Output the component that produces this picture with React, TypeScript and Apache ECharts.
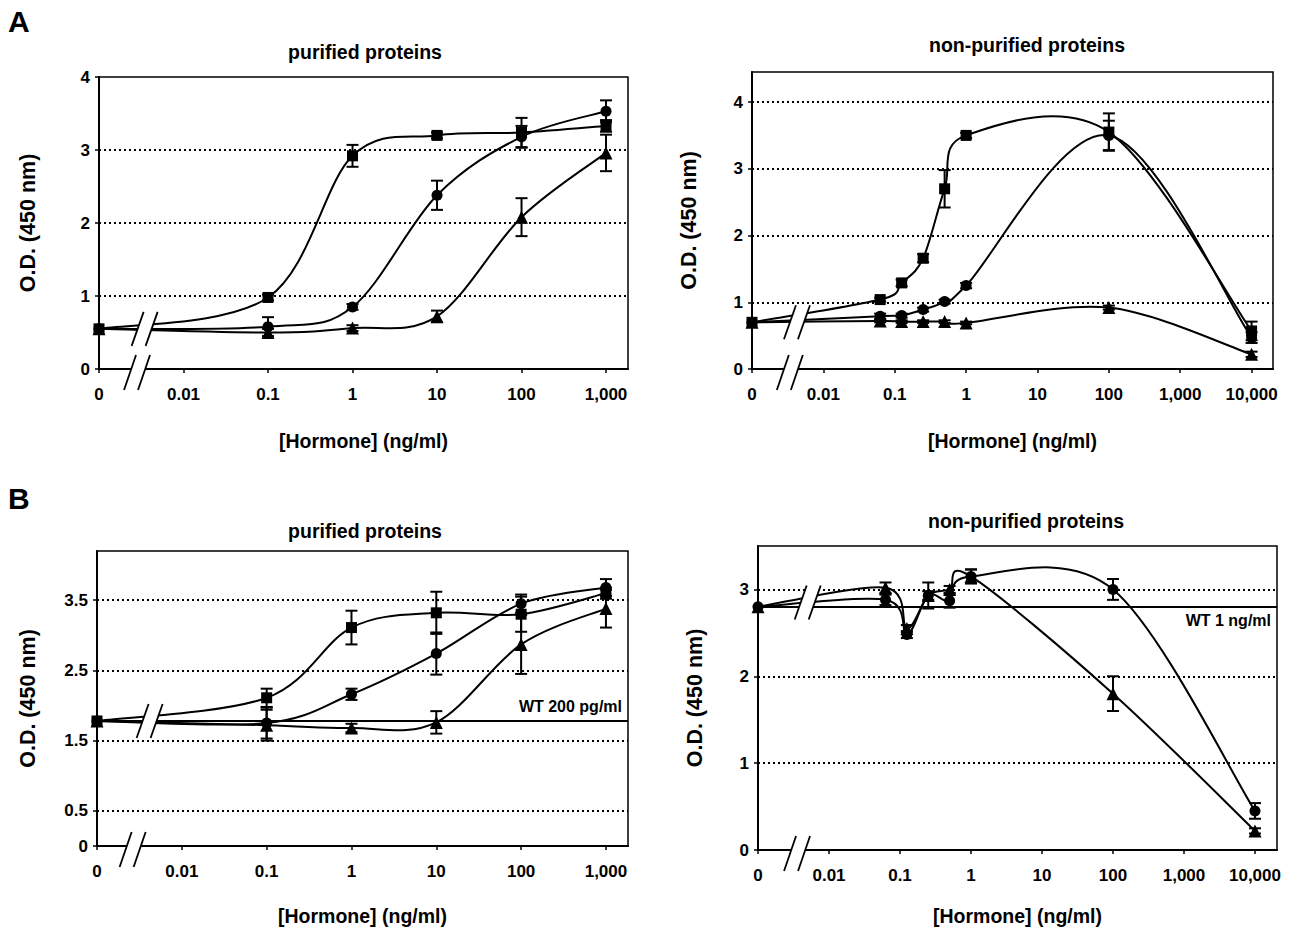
import React, { useEffect, useRef } from 'react';
import * as echarts from 'echarts';

const FONT = "'Liberation Sans', Arial, sans-serif";

// x tick concentrations (ng/ml) and their labels
const xTickConc = [0, 0.01, 0.1, 1, 10, 100, 1000, 10000];
const xTickLabels = ['0', '0.01', '0.1', '1', '10', '100', '1,000', '10,000'];

// Panel A – purified proteins
const concAL = [0, 0.1, 1, 10, 100, 1000];
const aLSquare = [0.55, 0.98, 2.92, 3.2, 3.24, 3.33];
const aLSquareErr = [0, 0.04, 0.15, 0.04, 0.2, 0.08];
const aLCircle = [0.55, 0.58, 0.85, 2.38, 3.18, 3.53];
const aLCircleErr = [0, 0.13, 0.04, 0.2, 0.15, 0.15];
const aLTriangle = [0.55, 0.5, 0.56, 0.72, 2.08, 2.96];
const aLTriangleErr = [0, 0.05, 0.04, 0.08, 0.26, 0.25];

// Panel A – non-purified proteins
const concAR = [0, 0.0625, 0.125, 0.25, 0.5, 1, 100, 10000];
const aRSquare = [0.7, 1.04, 1.29, 1.66, 2.7, 3.5, 3.55, 0.57];
const aRSquareErr = [0, 0.03, 0.05, 0.06, 0.28, 0.04, 0.28, 0.14];
const aRCircle = [0.7, 0.79, 0.8, 0.89, 1.01, 1.25, 3.5, 0.47];
const aRCircleErr = [0, 0.04, 0.03, 0.03, 0.03, 0.04, 0.22, 0.08];
const aRTriangle = [0.7, 0.72, 0.71, 0.71, 0.71, 0.69, 0.92, 0.22];
const aRTriangleErr = [0, 0.02, 0.02, 0.02, 0.02, 0.02, 0.03, 0.04];

// Panel B – purified proteins
const concBL = [0, 0.1, 1, 10, 100, 1000];
const bLSquare = [1.78, 2.11, 3.11, 3.32, 3.3, 3.6];
const bLSquareErr = [0, 0.13, 0.24, 0.3, 0.25, 0.08];
const bLCircle = [1.78, 1.75, 2.16, 2.74, 3.45, 3.68];
const bLCircleErr = [0, 0.22, 0.08, 0.3, 0.13, 0.12];
const bLTriangle = [1.78, 1.72, 1.68, 1.76, 2.87, 3.38];
const bLTriangleErr = [0, 0.22, 0.06, 0.16, 0.42, 0.27];
const bLReference = 1.79;
const bLReferenceLabel = 'WT 200 pg/ml';

// Panel B – non-purified proteins
const concBR = [0, 0.0625, 0.125, 0.25, 0.5, 1, 100, 10000];
const bRCircle = [2.8, 2.88, 2.48, 2.93, 2.87, 3.15, 3.0, 0.45];
const bRCircleErr = [0, 0.06, 0.04, 0.15, 0.08, 0.08, 0.12, 0.09];
const bRTriangle = [2.8, 3.02, 2.55, 2.93, 3.0, 3.15, 1.8, 0.22];
const bRTriangleErr = [0, 0.06, 0.04, 0.05, 0.04, 0.08, 0.2, 0.03];
const bRReference = 2.8;
const bRReferenceLabel = 'WT 1 ng/ml';

const titles = ['purified proteins', 'non-purified proteins', 'purified proteins', 'non-purified proteins'];
const yLabelsA1 = [0, 1, 2, 3, 4];
const yLabelsA2 = [0, 1, 2, 3, 4];
const yLabelsB1 = [0, 0.5, 1.5, 2.5, 3.5];
const yLabelsB2 = [0, 1, 2, 3];
const gridLinesA1 = [1, 2, 3];
const gridLinesA2 = [1, 2, 3, 4];
const gridLinesB1 = [0.5, 1.5, 2.5, 3.5];
const gridLinesB2 = [1, 2, 3];

const pos = (c: number) => (c === 0 ? -3 : Math.log10(c));

type S = { sym: string; size: number; vals: number[]; errs: number[] };
type Panel = {
  grid: { left: number; top: number; width: number; height: number };
  xMax: number; yMax: number; yLabels: number[]; gridLines: number[];
  conc: number[]; series: S[];
  ref?: { y: number; label: string; pos: string };
  breaks: { upper: [number, number]; lower: number };
  title: { x: number; y: number };
  yNameGap: number; xNameGap: number;
};

const SQ = 'rect', CI = 'circle', TR = 'triangle';

const panels: Panel[] = [
  {
    grid: { left: 99, top: 77, width: 529, height: 292 }, xMax: 3.26, yMax: 4,
    yLabels: yLabelsA1, gridLines: gridLinesA1, conc: concAL,
    series: [
      { sym: SQ, size: 11, vals: aLSquare, errs: aLSquareErr },
      { sym: CI, size: 11, vals: aLCircle, errs: aLCircleErr },
      { sym: TR, size: 13, vals: aLTriangle, errs: aLTriangleErr },
    ],
    breaks: { upper: [-2.46, 0.55], lower: -2.55 },
    title: { x: 365, y: 42 }, yNameGap: 60, xNameGap: 62,
  },
  {
    grid: { left: 752, top: 72, width: 521, height: 297 }, xMax: 4.3, yMax: 4.45,
    yLabels: yLabelsA2, gridLines: gridLinesA2, conc: concAR,
    series: [
      { sym: SQ, size: 11, vals: aRSquare, errs: aRSquareErr },
      { sym: CI, size: 11, vals: aRCircle, errs: aRCircleErr },
      { sym: TR, size: 13, vals: aRTriangle, errs: aRTriangleErr },
    ],
    breaks: { upper: [-2.37, 0.7], lower: -2.47 },
    title: { x: 1027, y: 35 }, yNameGap: 52, xNameGap: 62,
  },
  {
    grid: { left: 97, top: 551, width: 531, height: 298 }, xMax: 3.26, yMax: 4.2,
    yLabels: yLabelsB1, gridLines: gridLinesB1, conc: concBL,
    series: [
      { sym: SQ, size: 11, vals: bLSquare, errs: bLSquareErr },
      { sym: CI, size: 11, vals: bLCircle, errs: bLCircleErr },
      { sym: TR, size: 13, vals: bLTriangle, errs: bLTriangleErr },
    ],
    ref: { y: bLReference, label: bLReferenceLabel, pos: 'insideEndTop' },
    breaks: { upper: [-2.38, 1.78], lower: -2.58 },
    title: { x: 365, y: 521 }, yNameGap: 58, xNameGap: 60,
  },
  {
    grid: { left: 758, top: 546, width: 519, height: 306 }, xMax: 4.31, yMax: 3.5,
    yLabels: yLabelsB2, gridLines: gridLinesB2, conc: concBR,
    series: [
      { sym: CI, size: 11, vals: bRCircle, errs: bRCircleErr },
      { sym: TR, size: 13, vals: bRTriangle, errs: bRTriangleErr },
    ],
    ref: { y: bRReference, label: bRReferenceLabel, pos: 'insideEndBottom' },
    breaks: { upper: [-2.3, 2.85], lower: -2.45 },
    title: { x: 1026, y: 511 }, yNameGap: 52, xNameGap: 56,
  },
];

function xLabel(v: number) {
  const k = xTickConc.findIndex((c) => Math.abs(pos(c) - v) < 1e-6);
  return k >= 0 ? xTickLabels[k] : '';
}

// smooth curve through the points (Catmull-Rom style Bezier, as a spreadsheet smoothed line)
function curveSeries(i: number, xs: number[], ys: number[]) {
  const n = xs.length;
  return {
    type: 'custom', xAxisIndex: i, yAxisIndex: i, z: 3, silent: true,
    data: xs.map((x, j) => [x, ys[j]]),
    encode: { x: 0, y: 1 },
    renderItem: (params: any, api: any) => {
      const j = params.dataIndex;
      if (j >= n - 1) return null;
      const P = (k: number) => {
        const kk = Math.max(0, Math.min(n - 1, k));
        return api.coord([xs[kk], ys[kk]]);
      };
      const p0 = P(j - 1), p1 = P(j), p2 = P(j + 1), p3 = P(j + 2);
      const t = 1 / 6;
      return {
        type: 'bezierCurve',
        shape: {
          x1: p1[0], y1: p1[1], x2: p2[0], y2: p2[1],
          cpx1: p1[0] + (p2[0] - p0[0]) * t, cpy1: p1[1] + (p2[1] - p0[1]) * t,
          cpx2: p2[0] - (p3[0] - p1[0]) * t, cpy2: p2[1] - (p3[1] - p1[1]) * t,
        },
        style: { stroke: '#000', lineWidth: 2, fill: null },
      };
    },
  };
}

function buildOption() {
  const grids: any[] = [], xAxes: any[] = [], yAxes: any[] = [], series: any[] = [], title: any[] = [];
  const textBase = { color: '#000', fontFamily: FONT, fontWeight: 'bold' as const };

  title.push({ text: 'A', left: 8, top: 6, padding: 0, textStyle: { ...textBase, fontSize: 30 } });
  title.push({ text: 'B', left: 8, top: 483, padding: 0, textStyle: { ...textBase, fontSize: 30 } });

  panels.forEach((p, i) => {
    grids.push({ ...p.grid, show: true, borderColor: '#000', borderWidth: 1.5, backgroundColor: 'transparent', containLabel: false });
    title.push({ text: titles[i], left: p.title.x, top: p.title.y, textAlign: 'center', padding: 0, textStyle: { ...textBase, fontSize: 19.5 } });
    const xVals = xTickConc.filter((c) => pos(c) <= p.xMax).map(pos);
    xAxes.push({
      type: 'value', gridIndex: i, min: -3, max: p.xMax,
      name: '[Hormone] (ng/ml)', nameLocation: 'middle', nameGap: p.xNameGap,
      nameTextStyle: { ...textBase, fontSize: 19.5 },
      axisLine: { show: true, onZero: false, lineStyle: { color: '#000', width: 2 } },
      axisTick: { show: true, customValues: xVals, length: 4, lineStyle: { color: '#000', width: 1.5 } },
      axisLabel: { customValues: xVals, formatter: xLabel, ...textBase, fontSize: 17, margin: 17, showMinLabel: true, showMaxLabel: true, hideOverlap: false },
      splitLine: { show: false },
    });
    yAxes.push({
      type: 'value', gridIndex: i, min: 0, max: p.yMax,
      name: 'O.D. (450 nm)', nameLocation: 'middle', nameGap: p.yNameGap,
      nameTextStyle: { ...textBase, fontSize: 21.5 },
      axisLine: { show: true, onZero: false, lineStyle: { color: '#000', width: 2 } },
      axisTick: { show: true, customValues: p.yLabels, length: 4, lineStyle: { color: '#000', width: 1.5 } },
      axisLabel: { customValues: p.yLabels, formatter: (v: number) => String(v), ...textBase, fontSize: 17, margin: 9 },
      splitLine: { show: false },
    });

    const errData: number[][] = [];
    p.series.forEach((s, k) => {
      const xs = p.conc.map(pos);
      const data = xs.map((x, j) => [x, s.vals[j]]);
      s.errs.forEach((e, j) => {
        if (e > 0) errData.push([xs[j], s.vals[j] - e, s.vals[j] + e]);
      });
      series.push(curveSeries(i, xs, s.vals));
      const ser: any = {
        type: 'scatter', xAxisIndex: i, yAxisIndex: i, data,
        symbol: s.sym, symbolSize: s.size,
        itemStyle: { color: '#000', opacity: 1 },
        z: 5, silent: true,
      };
      if (k === 0) {
        const ml: any[] = p.gridLines.map((v) => ({ yAxis: v, lineStyle: { type: [2, 3], width: 2, color: '#000' }, label: { show: false } }));
        if (p.ref) {
          ml.push({
            yAxis: p.ref.y, lineStyle: { type: 'solid', width: 1.8, color: '#000' },
            label: { show: true, formatter: p.ref.label, position: p.ref.pos, ...textBase, fontSize: 16, distance: 6 },
          });
        }
        ser.markLine = { silent: true, symbol: 'none', animation: false, data: ml };
      }
      series.push(ser);
    });

    series.push({
      type: 'custom', xAxisIndex: i, yAxisIndex: i, data: errData, z: 4, silent: true,
      encode: { x: 0, y: [1, 2] },
      renderItem: (_params: any, api: any) => {
        const x = api.value(0), lo = api.value(1), hi = api.value(2);
        const a = api.coord([x, lo]), b = api.coord([x, hi]);
        const w = 6;
        const st = { stroke: '#000', lineWidth: 2 };
        return {
          type: 'group', children: [
            { type: 'line', shape: { x1: a[0], y1: a[1], x2: b[0], y2: b[1] }, style: st },
            { type: 'line', shape: { x1: a[0] - w, y1: a[1], x2: a[0] + w, y2: a[1] }, style: st },
            { type: 'line', shape: { x1: b[0] - w, y1: b[1], x2: b[0] + w, y2: b[1] }, style: st },
          ],
        };
      },
    });

    // axis break marks
    series.push({
      type: 'custom', xAxisIndex: i, yAxisIndex: i, z: 10, silent: true, clip: false,
      data: [[p.breaks.upper[0], p.breaks.upper[1], 0], [p.breaks.lower, 0, 1]],
      encode: { x: 0, y: 1 },
      renderItem: (_params: any, api: any) => {
        const c = api.coord([api.value(0), api.value(1)]);
        const lower = api.value(2) === 1;
        const cx = c[0];
        const top = lower ? c[1] - 14 : c[1] - 17;
        const bot = lower ? c[1] + 21 : c[1] + 17;
        const sl = 6, gap = 7;
        const st = { stroke: '#000', lineWidth: 1.8 };
        return {
          type: 'group', children: [
            { type: 'polygon', shape: { points: [[cx - gap - sl, bot], [cx - gap + sl, top], [cx + gap + sl, top], [cx + gap - sl, bot]] }, style: { fill: '#fff', stroke: null } },
            { type: 'line', shape: { x1: cx - gap - sl, y1: bot, x2: cx - gap + sl, y2: top }, style: st },
            { type: 'line', shape: { x1: cx + gap - sl, y1: bot, x2: cx + gap + sl, y2: top }, style: st },
          ],
        };
      },
    });
  });

  return {
    animation: false, backgroundColor: '#fff',
    textStyle: { fontFamily: FONT },
    title, grid: grids, xAxis: xAxes, yAxis: yAxes, series,
  };
}

export default function App() {
  const ref = useRef<HTMLDivElement>(null);
  useEffect(() => {
    if (!ref.current) return;
    const chart = echarts.init(ref.current, undefined, { renderer: 'svg' });
    chart.setOption(buildOption() as any);
    return () => chart.dispose();
  }, []);
  return <div ref={ref} style={{ position: 'absolute', left: 0, top: 0, width: 1289, height: 927, background: '#fff' }} />;
}
